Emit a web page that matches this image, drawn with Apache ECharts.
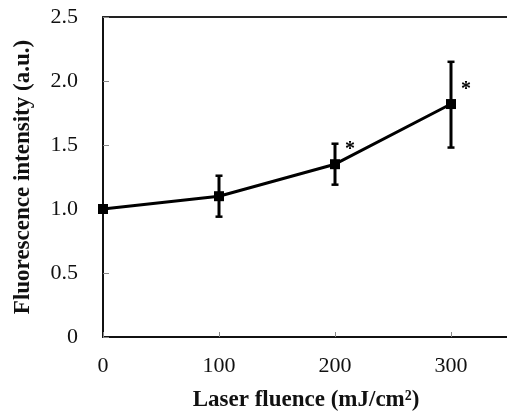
<!DOCTYPE html>
<html>
<head>
<meta charset="utf-8">
<script src="https://cdn.jsdelivr.net/npm/echarts@6/dist/echarts.min.js"></script>
<style>html,body{margin:0;padding:0;background:#fff;}#c{width:507px;height:413px;}</style>
</head>
<body>
<div id="c"></div>
<script>
var fluence = [0, 100, 200, 300];
var intensity = [1.00, 1.10, 1.35, 1.82];
var errLow = [1.00, 0.94, 1.19, 1.48];
var errHigh = [1.00, 1.26, 1.51, 2.15];
var marks = ['', '', '*', '*'];
var xTicks = [0, 100, 200, 300];

var font = 'Liberation Serif, Times New Roman, serif';
var chart = echarts.init(document.getElementById('c'));
var errData = fluence.map(function (x, i) { return [x, errLow[i], errHigh[i], intensity[i], marks[i]]; });

chart.setOption({
  animation: false,
  backgroundColor: '#fff',
  grid: { left: 103, top: 17, bottom: 76, right: -2, outerBoundsMode: 'none', containLabel: false },
  xAxis: [{
    type: 'value', min: 0, max: 350, interval: 100,
    axisLine: { lineStyle: { color: '#111', width: 2 } },
    axisTick: { inside: true, length: 5, lineStyle: { color: '#888', width: 1 } },
    splitLine: { show: false },
    axisLabel: {
      margin: 18, color: '#111', fontFamily: font, fontSize: 22,
      formatter: function (v) { return xTicks.indexOf(v) >= 0 ? String(v) : ''; }
    },
    name: 'Laser fluence (mJ/cm²)', nameLocation: 'middle', nameGap: 52,
    nameTextStyle: { color: '#111', fontFamily: font, fontSize: 23, fontWeight: 'bold' }
  }, {
    type: 'value', position: 'top', min: 0, max: 350,
    axisLine: { show: true, lineStyle: { color: '#222', width: 2 } },
    axisTick: { show: false }, axisLabel: { show: false }, splitLine: { show: false }
  }],
  yAxis: {
    type: 'value', min: 0, max: 2.5, interval: 0.5,
    axisLine: { show: true, lineStyle: { color: '#111', width: 2 } },
    axisTick: { show: true, inside: true, length: 6, lineStyle: { color: '#888', width: 1 } },
    splitLine: { show: false },
    axisLabel: {
      margin: 25, color: '#111', fontFamily: font, fontSize: 22,
      formatter: function (v) { return v === 0 ? '0' : v.toFixed(1); }
    },
    name: 'Fluorescence intensity (a.u.)', nameLocation: 'middle', nameGap: 68,
    nameTextStyle: { color: '#111', fontFamily: font, fontSize: 23, fontWeight: 'bold' }
  },
  series: [{
    type: 'custom',
    data: errData,
    z: 3,
    renderItem: function (params, api) {
      var x = api.value(0);
      var lo = api.coord([x, api.value(1)]);
      var hi = api.coord([x, api.value(2)]);
      var mid = api.coord([x, api.value(3)]);
      var cap = 3.5;
      var children = [];
      if (Math.abs(hi[1] - lo[1]) > 1) {
        children.push(
          { type: 'line', shape: { x1: lo[0], y1: lo[1], x2: hi[0], y2: hi[1] }, style: { stroke: '#000', lineWidth: 3 } },
          { type: 'line', shape: { x1: lo[0] - cap, y1: lo[1], x2: lo[0] + cap, y2: lo[1] }, style: { stroke: '#000', lineWidth: 2.5 } },
          { type: 'line', shape: { x1: hi[0] - cap, y1: hi[1], x2: hi[0] + cap, y2: hi[1] }, style: { stroke: '#000', lineWidth: 2.5 } }
        );
      }
      var m = api.value(4);
      if (m) {
        children.push({ type: 'text', style: { text: m, x: mid[0] + 15, y: mid[1] - 14, fill: '#000', font: 'bold 20px ' + font, align: 'center', verticalAlign: 'middle' } });
      }
      return { type: 'group', children: children };
    }
  }, {
    type: 'line',
    data: fluence.map(function (x, i) { return [x, intensity[i]]; }),
    symbol: 'rect', symbolSize: 10,
    itemStyle: { color: '#000' },
    lineStyle: { color: '#000', width: 3 },
    z: 4
  }]
});
</script>
</body>
</html>
